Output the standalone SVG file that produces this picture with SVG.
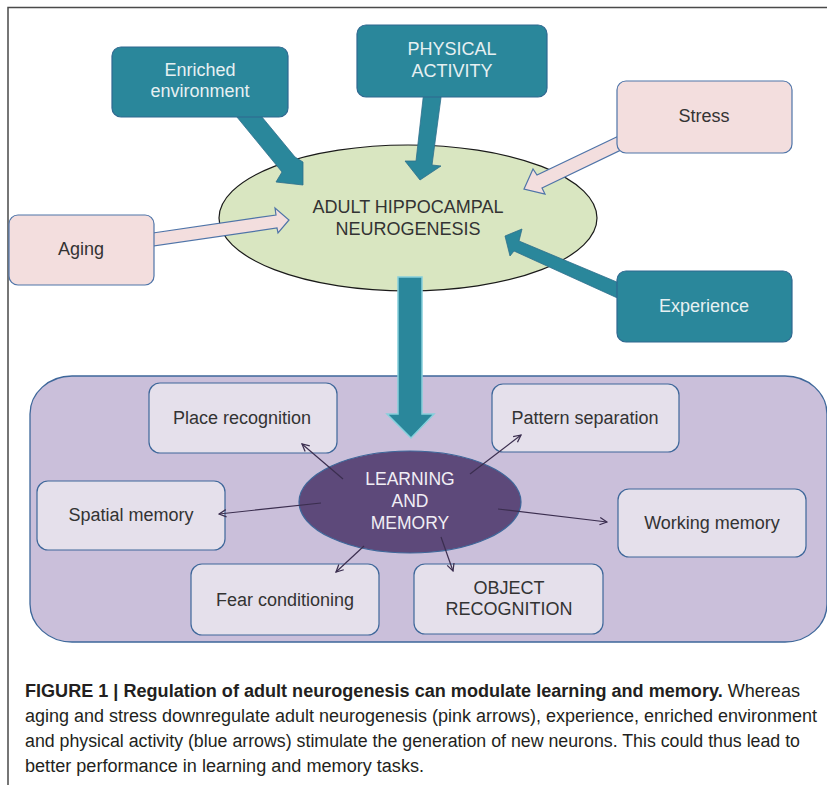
<svg xmlns="http://www.w3.org/2000/svg" width="827" height="785" viewBox="0 0 827 785">
<style>
  .lbl { font-family: "Liberation Sans", Arial, sans-serif; font-size: 18px; fill: #333; text-anchor: middle; }
  .lt { fill: #e6f0f2; }
  .lw { fill: #f1eef5; font-size: 17.5px; }
  .teal { fill: #2a879b; stroke: #2f6890; stroke-width: 1.2; }
  .pink { fill: #f3dede; stroke: #4f74a8; stroke-width: 1.2; }
  .tarrow { fill: #2a879b; stroke: #2f6f8c; stroke-width: 0.8; }
  .parrow { fill: #f3dede; stroke: #4f74a8; stroke-width: 1.2; }
  .inner { fill: #e5e0eb; stroke: #3e679a; stroke-width: 1.2; }
  .thin { stroke: #3b2e4f; stroke-width: 1.2; fill: none; marker-end: url(#ah); }
  .cap { font-family: "Liberation Sans", Arial, sans-serif; font-size: 18px; fill: #231f20; }
</style>
<defs>
  <marker id="ah" viewBox="0 0 10 10" refX="9" refY="5" markerWidth="9" markerHeight="9" markerUnits="userSpaceOnUse" orient="auto">
    <path d="M1,1 L9,5 L1,9" fill="none" stroke="#3b2e4f" stroke-width="1.4"/>
  </marker>
</defs>
<rect width="827" height="785" fill="#ffffff"/>
<!-- frame -->
<path d="M8,785 L8,7.5 L827,7.5" fill="none" stroke="#4a4a4a" stroke-width="1.5"/>

<!-- bottom container -->
<g id="container">
  <rect x="30" y="376" width="797" height="266" rx="42" ry="38" fill="#cabfda" stroke="#3e679a" stroke-width="1.3"/>
</g>

<!-- central ellipse -->
<g id="neurogenesis">
  <ellipse cx="408" cy="218" rx="189" ry="73" fill="#d9e6c1" stroke="#1a1a1a" stroke-width="1.2"/>
  <text class="lbl" x="408" y="213">ADULT HIPPOCAMPAL</text>
  <text class="lbl" x="408" y="235">NEUROGENESIS</text>
</g>

<!-- block arrows -->
<g id="block-arrows">
  <polygon class="tarrow" points="232,111 257,111 295,157 303,162 303,185 276,182 282,172"/>
  <polygon class="tarrow" points="424,90 442,90 432,165 441,166 420,180 405,161 416,161"/>
  <polygon class="parrow" points="625,133 537,175 533,169 524,189 545,194 542,188 625,148"/>
  <polygon class="parrow" points="146,234 276,215 275,208 289,220 278,233 277,228 146,247"/>
  <polygon class="tarrow" points="505,236 522,229 519,241 624,285 624,301 514,251 510,256"/>
  <polygon points="398,277 422,277 422,414 434,414 411,438 387,414 398,414" fill="#2a879b" stroke="#86d0dc" stroke-width="1.5"/>
</g>

<!-- input nodes -->
<g id="enriched">
  <rect class="teal" x="112" y="47" width="176" height="70" rx="9"/>
  <text class="lbl lt" x="200" y="76">Enriched</text>
  <text class="lbl lt" x="200" y="97">environment</text>
</g>
<g id="physical">
  <rect class="teal" x="357" y="25" width="190" height="72" rx="9"/>
  <text class="lbl lt" x="452" y="55">PHYSICAL</text>
  <text class="lbl lt" x="452" y="77">ACTIVITY</text>
</g>
<g id="stress">
  <rect class="pink" x="617" y="81" width="175" height="72" rx="9"/>
  <text class="lbl" x="704" y="122">Stress</text>
</g>
<g id="aging">
  <rect class="pink" x="9" y="215" width="145" height="70" rx="9"/>
  <text class="lbl" x="81" y="255">Aging</text>
</g>
<g id="experience">
  <rect class="teal" x="617" y="271" width="175" height="71" rx="9"/>
  <text class="lbl lt" x="704" y="312">Experience</text>
</g>

<!-- learning and memory -->
<g id="learning">
  <ellipse cx="410" cy="502" rx="111" ry="51" fill="#5d497a" stroke="#3e679a" stroke-width="1.2"/>
  <text class="lbl lw" x="410" y="485">LEARNING</text>
  <text class="lbl lw" x="410" y="507">AND</text>
  <text class="lbl lw" x="410" y="529">MEMORY</text>
</g>

<!-- output nodes -->
<g id="place">
  <rect class="inner" x="149" y="383" width="188" height="70" rx="11"/>
  <text class="lbl" x="242" y="424">Place recognition</text>
</g>
<g id="spatial">
  <rect class="inner" x="37" y="481" width="188" height="69" rx="11"/>
  <text class="lbl" x="131" y="521">Spatial memory</text>
</g>
<g id="fear">
  <rect class="inner" x="191" y="564" width="188" height="71" rx="11"/>
  <text class="lbl" x="285" y="606">Fear conditioning</text>
</g>
<g id="pattern">
  <rect class="inner" x="492" y="384" width="187" height="68" rx="11"/>
  <text class="lbl" x="585" y="424">Pattern separation</text>
</g>
<g id="working">
  <rect class="inner" x="618" y="489" width="188" height="68" rx="11"/>
  <text class="lbl" x="712" y="529">Working memory</text>
</g>
<g id="object">
  <rect class="inner" x="414" y="564" width="189" height="70" rx="11"/>
  <text class="lbl" x="509" y="594">OBJECT</text>
  <text class="lbl" x="509" y="615">RECOGNITION</text>
</g>

<!-- connectors -->
<g id="connectors">
  <line class="thin" x1="343" y1="479" x2="302" y2="444"/>
  <line class="thin" x1="321" y1="503" x2="219" y2="514"/>
  <line class="thin" x1="364" y1="546" x2="336" y2="572"/>
  <line class="thin" x1="470" y1="474" x2="521" y2="435"/>
  <line class="thin" x1="498" y1="509" x2="607" y2="522"/>
  <line class="thin" x1="441" y1="537" x2="453" y2="571"/>
</g>

<!-- caption -->
<g id="caption">
  <text class="cap" x="25" y="697" textLength="775" lengthAdjust="spacingAndGlyphs"><tspan font-weight="bold">FIGURE 1 | Regulation of adult neurogenesis can modulate learning and memory.</tspan> Whereas</text>
  <text class="cap" x="25" y="722" textLength="792" lengthAdjust="spacingAndGlyphs">aging and stress downregulate adult neurogenesis (pink arrows), experience, enriched environment</text>
  <text class="cap" x="25" y="747" textLength="775" lengthAdjust="spacingAndGlyphs">and physical activity (blue arrows) stimulate the generation of new neurons. This could thus lead to</text>
  <text class="cap" x="25" y="772" textLength="399" lengthAdjust="spacingAndGlyphs">better performance in learning and memory tasks.</text>
</g>
</svg>
